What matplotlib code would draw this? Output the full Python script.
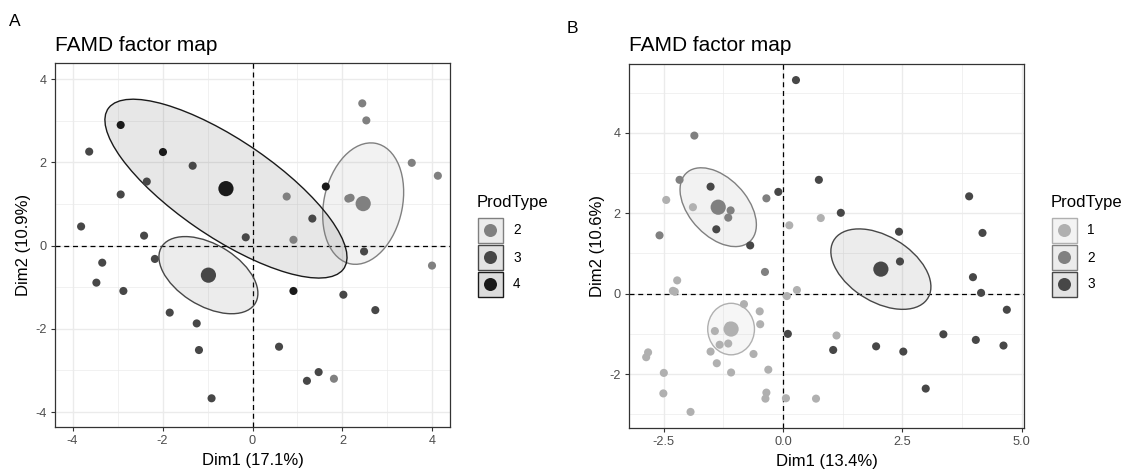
import numpy as np
import matplotlib
matplotlib.use('Agg')
import matplotlib.pyplot as plt
from matplotlib.patches import Ellipse, Rectangle, Circle

plt.rcParams['font.family'] = ['Liberation Sans', 'DejaVu Sans']
plt.rcParams['axes.unicode_minus'] = False

# ---------------- Panel A data ----------------
A_groups = ['2', '3', '4']
A_colors = ['#808080', '#474747', '#1a1a1a']
A_x = {
    '2': [2.44, 2.53, 3.54, 4.12, 0.76, 2.13, 2.18, 0.91, 3.99, 1.81],
    '3': [-3.63, -1.33, -2.35, -2.93, 1.33, -3.81, -2.41, -0.15, -2.17, -3.34, -3.47,
          -2.87, 2.48, 2.02, 2.73, -1.84, -1.24, -1.19, 0.59, 1.47, 1.21, -0.91],
    '4': [-2.93, -1.99, 1.63, 0.91],
}
A_y = {
    '2': [3.42, 3.01, 1.99, 1.68, 1.18, 1.13, 1.15, 0.14, -0.48, -3.20],
    '3': [2.26, 1.92, 1.54, 1.23, 0.65, 0.46, 0.24, 0.20, -0.32, -0.41, -0.89,
          -1.09, -0.14, -1.18, -1.55, -1.61, -1.87, -2.51, -2.43, -3.04, -3.25, -3.67],
    '4': [2.90, 2.25, 1.42, -1.09],
}
A_cent_x = [2.46, -0.98, -0.59]
A_cent_y = [1.01, -0.71, 1.37]
A_ell_sxx = [0.81, 1.21, 7.24]
A_ell_sxy = [0.25, -0.48, -4.44]
A_ell_syy = [2.13, 0.86, 4.62]
A_xticks = [-4, -2, 0, 2, 4]
A_xticklabels = ['-4', '-2', '0', '2', '4']
A_yticks = [-4, -2, 0, 2, 4]
A_yticklabels = ['-4', '-2', '0', '2', '4']
A_xlabel = 'Dim1 (17.1%)'
A_ylabel = 'Dim2 (10.9%)'

# ---------------- Panel B data ----------------
B_groups = ['1', '2', '3']
B_colors = ['#b0b0b0', '#808080', '#474747']
B_x = {
    '1': [-2.45, -1.89, 0.79, 0.13, -2.22, -2.31, -2.27, 0.29, 0.08, -0.82, -0.49, -0.48,
          -1.13, -1.43, -1.15, -1.33, -1.52, -0.62, -1.39, -1.09, -0.31, -2.83, -2.87,
          -2.50, -2.51, -1.94, -0.35, -0.37, 0.06, 0.69, 1.12],
    '2': [-1.86, -2.17, -0.35, -1.10, -1.15, -2.59, -0.38],
    '3': [0.27, 0.75, -1.52, -0.10, 3.90, 1.21, -1.40, 2.43, 4.18, -0.69, 2.45, 3.98,
          4.15, 4.69, 0.10, 1.05, 1.95, 2.52, 3.36, 4.04, 4.62, 2.99],
}
B_y = {
    '1': [2.33, 2.15, 1.88, 1.70, 0.33, 0.07, 0.05, 0.09, -0.06, -0.26, -0.44, -0.76,
          -0.80, -0.93, -1.24, -1.27, -1.44, -1.50, -1.73, -1.96, -1.89, -1.46, -1.58,
          -1.97, -2.48, -2.94, -2.46, -2.61, -2.60, -2.61, -1.04],
    '2': [3.93, 2.83, 2.37, 2.07, 1.89, 1.45, 0.54],
    '3': [5.31, 2.83, 2.66, 2.53, 2.42, 2.01, 1.60, 1.54, 1.51, 1.20, 0.80, 0.41,
          0.02, -0.40, -1.00, -1.40, -1.31, -1.44, -1.01, -1.15, -1.29, -2.36],
}
B_cent_x = [-1.09, -1.36, 2.05]
B_cent_y = [-0.88, 2.15, 0.61]
B_ell_sxx = [0.24, 0.64, 1.10]
B_ell_sxy = [0.0, -0.35, -0.46]
B_ell_syy = [0.41, 0.96, 1.00]
B_xticks = [-2.5, 0.0, 2.5, 5.0]
B_xticklabels = ['-2.5', '0.0', '2.5', '5.0']
B_yticks = [-2, 0, 2, 4]
B_yticklabels = ['-2', '0', '2', '4']
B_xlabel = 'Dim1 (13.4%)'
B_ylabel = 'Dim2 (10.6%)'

TITLE = 'FAMD factor map'
LEGEND_TITLE = 'ProdType'

W, H = 1130, 473
fig = plt.figure(figsize=(W / 100, H / 100), dpi=100)


def px_axes(x0, y0, x1, y1):
    return fig.add_axes([x0 / W, 1 - y1 / H, (x1 - x0) / W, (y1 - y0) / H])


def draw_panel(ax, groups, colors, xs, ys, cx, cy, sxx, sxy, syy,
               xlim, ylim, xticks, xtl, yticks, ytl, xminor, yminor):
    ax.set_xlim(*xlim)
    ax.set_ylim(*ylim)
    ax.set_xticks(xticks)
    ax.set_xticklabels(xtl)
    ax.set_yticks(yticks)
    ax.set_yticklabels(ytl)
    ax.set_xticks(xminor, minor=True)
    ax.set_yticks(yminor, minor=True)
    ax.grid(which='major', color='#ebebeb', lw=1.0)
    ax.grid(which='minor', color='#ebebeb', lw=0.5)
    ax.set_axisbelow(True)
    ax.tick_params(which='major', length=3, width=0.8, color='#333333',
                   labelsize=9.2, labelcolor='#4d4d4d', pad=3)
    ax.tick_params(which='minor', length=0)
    for s in ax.spines.values():
        s.set_color('#333333')
        s.set_linewidth(0.9)
    ax.axhline(0, color='black', lw=0.9, ls=(0, (4, 3)), zorder=1.5)
    ax.axvline(0, color='black', lw=0.9, ls=(0, (4, 3)), zorder=1.5)
    for i, g in enumerate(groups):
        M = np.array([[sxx[i], sxy[i]], [sxy[i], syy[i]]])
        w, v = np.linalg.eigh(M)
        ang = np.degrees(np.arctan2(v[1, 1], v[0, 1]))
        e = Ellipse((cx[i], cy[i]), 2 * np.sqrt(w[1]), 2 * np.sqrt(w[0]), angle=ang,
                    facecolor=colors[i], alpha=0.1, edgecolor='none', zorder=2)
        ax.add_patch(e)
        e2 = Ellipse((cx[i], cy[i]), 2 * np.sqrt(w[1]), 2 * np.sqrt(w[0]), angle=ang,
                     facecolor='none', edgecolor=colors[i], lw=1.0, zorder=2.5)
        ax.add_patch(e2)
    for i, g in enumerate(groups):
        ax.scatter(xs[g], ys[g], s=34, color=colors[i], edgecolors='none', zorder=3)
    for i, g in enumerate(groups):
        ax.scatter([cx[i]], [cy[i]], s=120, color=colors[i], edgecolors='none', zorder=4)


def draw_legend(x0, groups, colors):
    lax = px_axes(x0, 190, x0 + 80, 300)
    lax.set_xlim(0, 80)
    lax.set_ylim(110, 0)
    lax.axis('off')
    lax.text(0, 17, LEGEND_TITLE, fontsize=12, va='baseline', ha='left', color='black')
    for i, g in enumerate(groups):
        top = 28 + 27 * i
        lax.add_patch(Rectangle((1, top), 25, 25, facecolor='white', edgecolor='none'))
        lax.add_patch(Rectangle((1, top), 25, 25, facecolor=colors[i], alpha=0.15,
                                edgecolor='none'))
        lax.add_patch(Rectangle((1, top), 25, 25, facecolor='none', edgecolor=colors[i],
                                lw=1.0))
        lax.add_patch(Circle((13.5, top + 12.5), 6.5, facecolor=colors[i], edgecolor='none'))
        lax.text(36, top + 12.5, g, fontsize=9.8, va='center', ha='left', color='black')


# Panel A
axA = px_axes(55, 63, 450, 427)
draw_panel(axA, A_groups, A_colors, A_x, A_y, A_cent_x, A_cent_y,
           A_ell_sxx, A_ell_sxy, A_ell_syy, (-4.39, 4.39), (-4.36, 4.39),
           A_xticks, A_xticklabels, A_yticks, A_yticklabels,
           [-3, -1, 1, 3], [-3, -1, 1, 3])
axA.set_xlabel(A_xlabel, fontsize=12, labelpad=4)
axA.set_ylabel(A_ylabel, fontsize=12, labelpad=3)
fig.text(55 / W, 1 - 51 / H, TITLE, fontsize=15, ha='left', va='baseline')
fig.text(9 / W, 1 - 26 / H, 'A', fontsize=12.5, ha='left', va='baseline')
draw_legend(477, A_groups, A_colors)

# Panel B
axB = px_axes(629, 64, 1024, 428)
draw_panel(axB, B_groups, B_colors, B_x, B_y, B_cent_x, B_cent_y,
           B_ell_sxx, B_ell_sxy, B_ell_syy, (-3.23, 5.05), (-3.34, 5.71),
           B_xticks, B_xticklabels, B_yticks, B_yticklabels,
           [-1.25, 1.25, 3.75], [-3, -1, 1, 3, 5])
axB.set_xlabel(B_xlabel, fontsize=12, labelpad=4)
axB.set_ylabel(B_ylabel, fontsize=12, labelpad=3)
fig.text(629 / W, 1 - 51 / H, TITLE, fontsize=15, ha='left', va='baseline')
fig.text(567 / W, 1 - 33 / H, 'B', fontsize=12.5, ha='left', va='baseline')
draw_legend(1051, B_groups, B_colors)

fig.savefig('out.png', dpi=100)
